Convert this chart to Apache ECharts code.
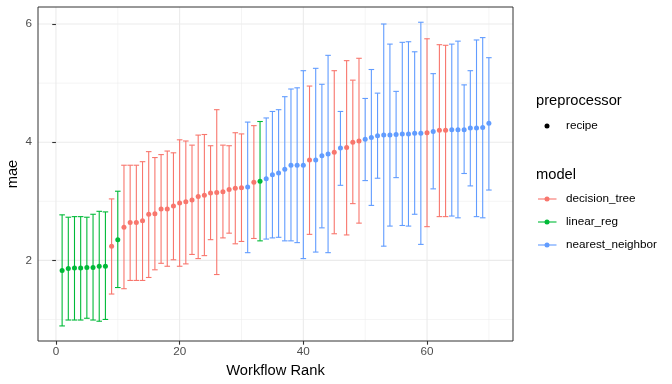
<!DOCTYPE html>
<html><head><meta charset="utf-8">
<script src="https://cdn.jsdelivr.net/npm/echarts@6/dist/echarts.min.js"></script>
<style>html,body{margin:0;padding:0;background:#fff}#c{width:672px;height:384px}</style>
</head><body><div id="c"></div>
<script>
// ---- data ----
const ranks = [1,2,3,4,5,6,7,8,9,10,11,12,13,14,15,16,17,18,19,20,21,22,23,24,25,26,27,28,29,30,31,32,33,34,35,36,37,38,39,40,41,42,43,44,45,46,47,48,49,50,51,52,53,54,55,56,57,58,59,60,61,62,63,64,65,66,67,68,69,70];
const T = 'decision_tree', L = 'linear_reg', N = 'nearest_neighbor';
const models = [L,L,L,L,L,L,L,L,T,L, T,T,T,T,T,T,T,T,T,T, T,T,T,T,T,T,T,T,T,T, N,T,L,N,N,N,N,N,N,N, T,N,N,N,T,N,T,T,T,N, N,N,N,N,N,N,N,N,N,T, N,T,T,N,N,N,N,N,N,N];
const means = [1.83,1.86,1.87,1.87,1.88,1.88,1.90,1.90,2.24,2.35, 2.56,2.64,2.64,2.67,2.78,2.79,2.87,2.87,2.92,2.97, 2.99,3.02,3.08,3.10,3.14,3.15,3.16,3.20,3.22,3.23, 3.24,3.32,3.34,3.38,3.45,3.48,3.54,3.61,3.61,3.61, 3.70,3.70,3.77,3.80,3.83,3.90,3.91,4.00,4.02,4.05, 4.08,4.11,4.12,4.12,4.13,4.14,4.14,4.15,4.15,4.16, 4.18,4.20,4.20,4.21,4.21,4.21,4.24,4.24,4.25,4.32];
const uppers = [2.77,2.73,2.74,2.74,2.73,2.78,2.83,2.82,3.04,3.17, 3.61,3.61,3.61,3.67,3.84,3.74,3.79,3.85,3.82,4.04, 4.02,3.95,4.12,4.13,3.94,4.55,3.95,3.94,4.16,4.14, 4.34,4.28,4.35,4.41,4.52,4.55,4.77,4.90,4.92,5.21, 4.95,5.25,4.98,5.47,5.21,4.52,5.38,5.05,5.42,4.74, 5.23,4.83,6.00,5.66,4.86,5.69,5.70,5.53,6.03,5.75, 5.16,5.65,5.64,5.66,5.71,4.97,5.21,5.73,5.77,5.43];
const lowers = [0.89,0.99,0.99,0.99,1.02,0.99,0.97,1.00,1.43,1.54, 1.52,1.66,1.66,1.66,1.71,1.84,1.95,1.90,2.01,1.90, 1.94,2.10,2.03,2.08,2.35,1.76,2.38,2.46,2.28,2.32, 2.13,2.37,2.33,2.36,2.38,2.39,2.33,2.33,2.30,2.03, 2.44,2.14,2.55,2.13,2.45,3.27,2.43,2.96,2.63,3.35, 2.93,3.39,2.24,2.58,3.40,2.59,2.58,2.78,2.27,2.57, 3.21,2.74,2.74,2.75,2.72,3.47,3.26,2.74,2.72,3.19];
const modelNames = [T, L, N];
const modelColors = ['#F8766D', '#00BA38', '#619CFF'];
const xTicks = [0, 20, 40, 60];
const xMinor = [10, 30, 50, 70];
const yTicks = [2, 4, 6];
const yMinor = [1, 3, 5];
const xTitle = 'Workflow Rank', yTitle = 'mae';
const preprocTitle = 'preprocessor', preprocLabel = 'recipe', modelTitle = 'model';

// ---- build ----
const FONT = '"Liberation Sans", Arial, Helvetica, sans-serif';
const gridData = [];
xTicks.forEach(v => gridData.push([v, 0, 1]));
xMinor.forEach(v => gridData.push([v, 0, 0]));
yTicks.forEach(v => gridData.push([v, 1, 1]));
yMinor.forEach(v => gridData.push([v, 1, 0]));

function renderGrid(params, api) {
  const cs = params.coordSys;
  const v = api.value(0), horiz = api.value(1) === 1, major = api.value(2) === 1;
  const style = { stroke: '#EBEBEB', lineWidth: major ? 1.1 : 0.55 };
  if (horiz) {
    const y = api.coord([0, v])[1];
    return { type: 'line', shape: { x1: cs.x, y1: y, x2: cs.x + cs.width, y2: y }, style };
  }
  const x = api.coord([v, 1])[0];
  return { type: 'line', shape: { x1: x, y1: cs.y, x2: x, y2: cs.y + cs.height }, style };
}

function renderErr(params, api) {
  const x = api.value(0), lo = api.value(1), hi = api.value(2);
  const pLo = api.coord([x, lo]), pHi = api.coord([x, hi]);
  const hw = api.size([0.45, 0])[0];
  const style = { stroke: api.visual('color'), lineWidth: 1.1 };
  return { type: 'group', children: [
    { type: 'line', shape: { x1: pLo[0], y1: pLo[1], x2: pHi[0], y2: pHi[1] }, style },
    { type: 'line', shape: { x1: pLo[0] - hw, y1: pLo[1], x2: pLo[0] + hw, y2: pLo[1] }, style },
    { type: 'line', shape: { x1: pHi[0] - hw, y1: pHi[1], x2: pHi[0] + hw, y2: pHi[1] }, style }
  ]};
}

const series = [{
  type: 'custom', name: 'grid', renderItem: renderGrid, data: gridData, silent: true, z: 0,
  encode: { x: 0, y: 1 }
}];
modelNames.forEach((m, mi) => {
  const errData = [], ptData = [];
  ranks.forEach((r, i) => {
    if (models[i] !== m) return;
    errData.push([r, lowers[i], uppers[i]]);
    ptData.push([r, means[i]]);
  });
  series.push({ type: 'custom', name: m, renderItem: renderErr, data: errData, color: modelColors[mi], z: 2, encode: { x: 0, y: [1, 2] } });
  series.push({ type: 'scatter', name: m, data: ptData, color: modelColors[mi], symbolSize: 5, z: 3,
    itemStyle: { opacity: 1 } });
});

// legend graphic
const lx = 536;
const graphic = [
  { type: 'text', left: lx, top: 93, style: { text: preprocTitle, font: '14.7px ' + FONT, fill: '#000' } },
  { type: 'circle', shape: { cx: 547, cy: 126, r: 2.5 }, style: { fill: '#000' } },
  { type: 'text', left: 566, top: 119.5, style: { text: preprocLabel, font: '11.7px ' + FONT, fill: '#000' } },
  { type: 'text', left: lx, top: 167, style: { text: modelTitle, font: '14.7px ' + FONT, fill: '#000' } }
];
const keyY = [199, 222, 245];
modelNames.forEach((m, i) => {
  graphic.push({ type: 'line', shape: { x1: 538, y1: keyY[i], x2: 556.5, y2: keyY[i] }, style: { stroke: modelColors[i], lineWidth: 1.1 } });
  graphic.push({ type: 'circle', shape: { cx: 547, cy: keyY[i], r: 2.5 }, style: { fill: modelColors[i] } });
  graphic.push({ type: 'text', left: 566, top: keyY[i] - 6.5, style: { text: m, font: '11.7px ' + FONT, fill: '#000' } });
});

const chart = echarts.init(document.getElementById('c'), null, { renderer: 'canvas' });
chart.setOption({
  animation: false,
  backgroundColor: '#fff',
  grid: { left: 38, right: 159, top: 7, bottom: 43, containLabel: false, outerBoundsMode: 'none',
    show: true, borderColor: '#333333', borderWidth: 1, backgroundColor: 'transparent', z: 5 },
  xAxis: {
    type: 'value', min: -2.9, max: 73.9,
    name: xTitle, nameLocation: 'middle', nameGap: 22, nameMoveOverlap: false,
    nameTextStyle: { fontFamily: FONT, fontSize: 14.7, color: '#000' },
    axisLine: { show: false },
    axisTick: { show: true, customValues: xTicks, length: 3.7, lineStyle: { color: '#333333', width: 1.1 } },
    axisLabel: { customValues: xTicks, fontFamily: FONT, fontSize: 11.7, color: '#4D4D4D', margin: 5 },
    splitLine: { show: false }
  },
  yAxis: {
    type: 'value', min: 0.635, max: 6.288,
    name: yTitle, nameLocation: 'middle', nameGap: 18, nameMoveOverlap: false,
    nameTextStyle: { fontFamily: FONT, fontSize: 14.7, color: '#000' },
    axisLine: { show: false },
    axisTick: { show: true, customValues: yTicks, length: 3.7, lineStyle: { color: '#333333', width: 1.1 } },
    axisLabel: { customValues: yTicks, fontFamily: FONT, fontSize: 11.7, color: '#4D4D4D', margin: 6 },
    splitLine: { show: false }
  },
  graphic: graphic,
  series: series
});
</script>
</body></html>
